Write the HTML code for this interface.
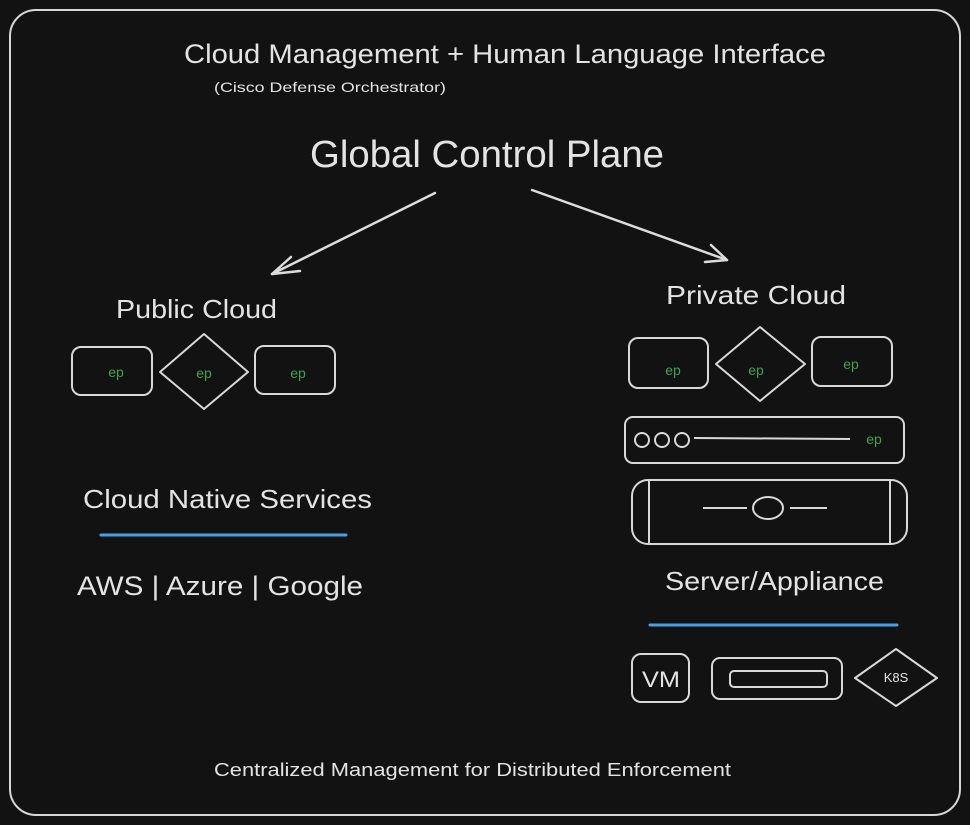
<!DOCTYPE html>
<html>
<head>
<meta charset="utf-8">
<style>
  html, body { margin:0; padding:0; background:#121212; }
  svg { display:block; }
  text { font-family: "Liberation Sans", "DejaVu Sans", sans-serif; fill:#e3e3e3; }
  .g { fill:#3fa34d; }
</style>
</head>
<body>
<svg width="970" height="825" viewBox="0 0 970 825" xmlns="http://www.w3.org/2000/svg">
  <rect x="0" y="0" width="970" height="825" fill="#121212"/>
  <!-- frame -->
  <rect x="10" y="10" width="950" height="805" rx="26" ry="26" fill="none" stroke="#d6d6d6" stroke-width="2"/>

  <!-- titles -->
  <text x="184" y="63" font-size="27" textLength="642" lengthAdjust="spacingAndGlyphs">Cloud Management + Human Language Interface</text>
  <text x="214" y="92" font-size="14" textLength="232" lengthAdjust="spacingAndGlyphs">(Cisco Defense Orchestrator)</text>
  <text x="310" y="167" font-size="38" textLength="354" lengthAdjust="spacingAndGlyphs">Global Control Plane</text>

  <!-- arrows -->
  <g stroke="#dcdcdc" stroke-width="2.5" fill="none" stroke-linecap="round" stroke-linejoin="round">
    <path d="M435 193 L272 274"/>
    <path d="M300 271 L272 274 L291 257"/>
    <path d="M532 190 L727 260"/>
    <path d="M705 262 L727 260 L711 245"/>
  </g>

  <!-- Public Cloud -->
  <text x="116" y="318" font-size="26" textLength="161" lengthAdjust="spacingAndGlyphs">Public Cloud</text>
  <g stroke="#d8d8d8" stroke-width="2" fill="none">
    <rect x="72" y="347" width="80" height="48" rx="9"/>
    <path d="M204 334 L248 372 L204 409 L160 372 Z" stroke-linejoin="round"/>
    <rect x="255" y="346" width="80" height="48" rx="9"/>
  </g>
  <text class="g" x="116" y="377" font-size="14" text-anchor="middle">ep</text>
  <text class="g" x="204" y="378" font-size="14" text-anchor="middle">ep</text>
  <text class="g" x="298" y="378" font-size="14" text-anchor="middle">ep</text>

  <!-- Cloud Native Services -->
  <text x="83" y="508" font-size="26" textLength="289" lengthAdjust="spacingAndGlyphs">Cloud Native Services</text>
  <line x1="101" y1="535" x2="346" y2="535" stroke="#4a9fe3" stroke-width="3" stroke-linecap="round"/>
  <text x="77" y="595" font-size="27" textLength="286" lengthAdjust="spacingAndGlyphs">AWS | Azure | Google</text>

  <!-- Private Cloud -->
  <text x="666" y="304" font-size="26" textLength="180" lengthAdjust="spacingAndGlyphs">Private Cloud</text>
  <g stroke="#d8d8d8" stroke-width="2" fill="none">
    <rect x="629" y="338" width="79" height="50" rx="9"/>
    <path d="M760 327 L805 364 L760 401 L716 364 Z" stroke-linejoin="round"/>
    <rect x="812" y="337" width="80" height="49" rx="9"/>
    <!-- bar -->
    <rect x="625" y="417" width="279" height="46" rx="8"/>
    <circle cx="642" cy="440" r="7"/>
    <circle cx="662" cy="440" r="7"/>
    <circle cx="682" cy="440" r="7"/>
    <line x1="694" y1="438" x2="850" y2="439"/>
    <!-- server -->
    <rect x="632" y="480" width="275" height="64" rx="16"/>
    <line x1="649" y1="481" x2="649" y2="543"/>
    <line x1="890" y1="481" x2="890" y2="543"/>
    <line x1="703" y1="508" x2="747" y2="508"/>
    <ellipse cx="768" cy="508" rx="15" ry="11"/>
    <line x1="790" y1="508" x2="827" y2="508"/>
  </g>
  <text class="g" x="673" y="375" font-size="14" text-anchor="middle">ep</text>
  <text class="g" x="756" y="375" font-size="14" text-anchor="middle">ep</text>
  <text class="g" x="851" y="369" font-size="14" text-anchor="middle">ep</text>
  <text class="g" x="874" y="444" font-size="14" text-anchor="middle">ep</text>

  <text x="665" y="590" font-size="26" textLength="219" lengthAdjust="spacingAndGlyphs">Server/Appliance</text>
  <line x1="650" y1="625" x2="897" y2="625" stroke="#4a9fe3" stroke-width="3" stroke-linecap="round"/>

  <!-- bottom icons -->
  <g stroke="#d8d8d8" stroke-width="2" fill="none">
    <rect x="632" y="654" width="57" height="48" rx="9"/>
    <rect x="712" y="658" width="130" height="41" rx="8"/>
    <rect x="730" y="671" width="97" height="16" rx="4"/>
    <path d="M896 649 L937 678 L896 706 L855 678 Z" stroke-linejoin="round"/>
  </g>
  <text x="661" y="687" font-size="22" text-anchor="middle" textLength="38" lengthAdjust="spacingAndGlyphs">VM</text>
  <text x="896" y="682" font-size="13" text-anchor="middle">K8S</text>

  <!-- footer -->
  <text x="214" y="776" font-size="18" textLength="517" lengthAdjust="spacingAndGlyphs">Centralized Management for Distributed Enforcement</text>
</svg>
</body>
</html>
